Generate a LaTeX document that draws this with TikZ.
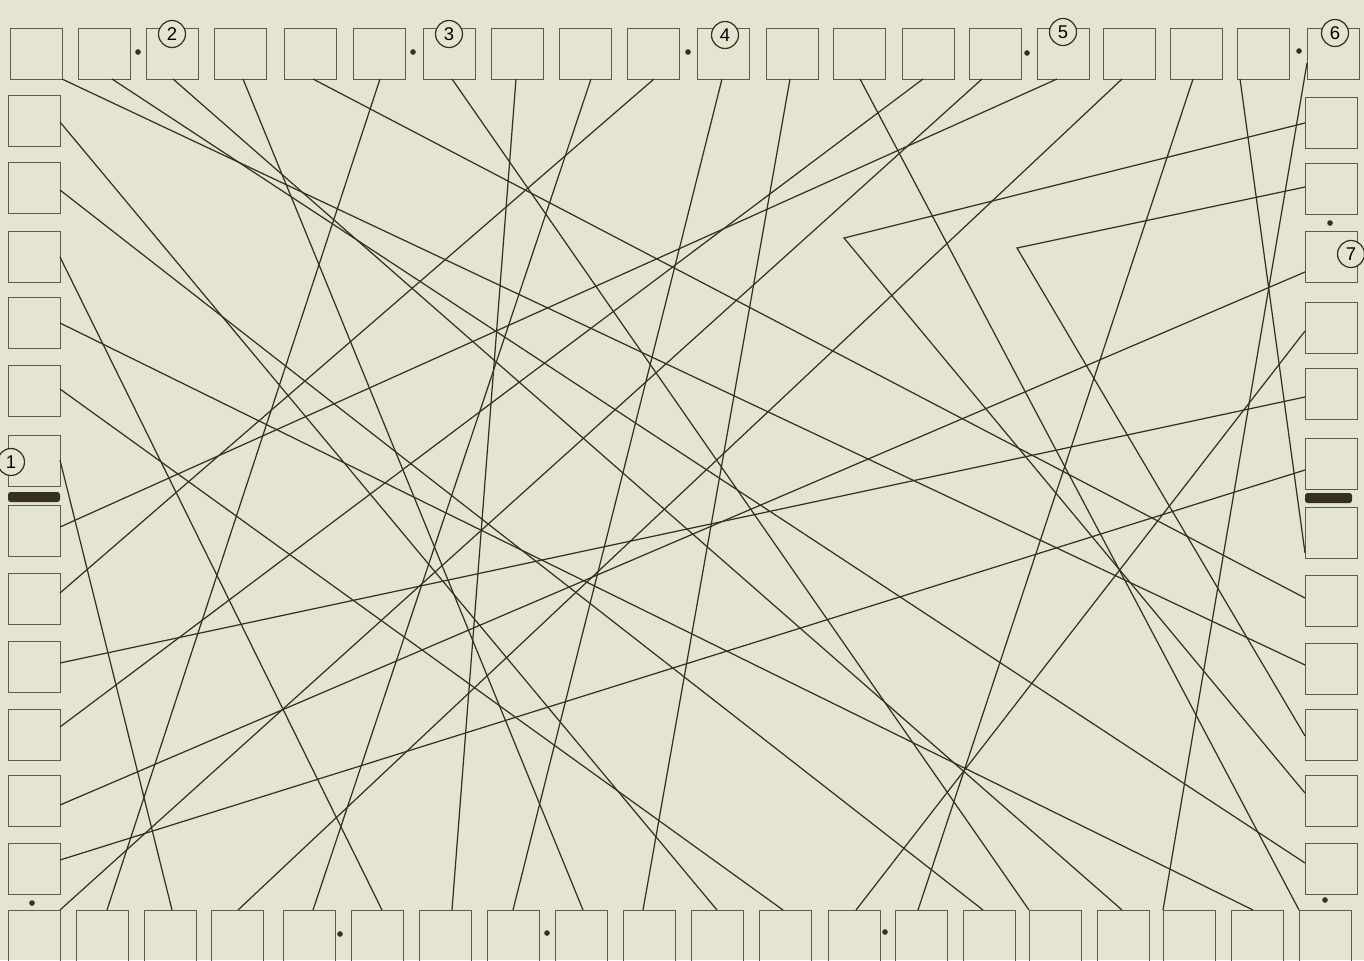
\documentclass[tikz,border=0pt]{standalone}
\usepackage{fontspec}
\setmainfont{Liberation Sans}
\usetikzlibrary{calc,positioning}
\definecolor{paper}{RGB}{229,228,208}
\definecolor{ink}{RGB}{55,47,34}

\begin{document}
\begin{tikzpicture}[x=0.02cm, y=-0.02cm,
  cell/.style={draw=ink!80, line width=0.55pt, anchor=north west, minimum width=1.04cm, minimum height=1.02cm, inner sep=0pt, outer sep=0pt},
  wire/.style={draw=ink, line width=0.7pt},
  badge/.style={draw=ink, fill=paper, circle, line width=0.7pt, minimum size=0.54cm, inner sep=0pt, font=\fontsize{10.5}{12}\selectfont}]

\fill[paper] (0,0) rectangle (1364,960);
\useasboundingbox (0,0) rectangle (1364,960);

% boxes round the border
\foreach \x [count=\i] in {10,78,146,214,284,353,423,491,559,627,697,766,833,902,969,1037,1103,1170,1237,1307}
  \node[cell] (t\i) at (\x,28) {};
\foreach \x [count=\i] in {8,76,144,211,283,351,419,487,555,623,691,759,828,895,963,1029,1097,1163,1231,1299}
  \node[cell] (b\i) at (\x,910) {};
\foreach \y [count=\i from 2] in {95,162,231,297,365,435,505,573,641,709,775,843}
  \node[cell] (l\i) at (8,\y) {};
\foreach \y [count=\i from 2] in {97,163,231,302,368,438,507,575,643,709,775,843}
  \node[cell] (r\i) at (1305,\y) {};

\fill[ink, rounded corners=1.5pt] (8,492) rectangle (60,502);
\fill[ink, rounded corners=1.5pt] (1305,493) rectangle (1352,503);

\foreach \p in {(138,52),(413,52),(688,52),(1027,53),(1299,51),(1330,223),(1325,900),(32,903),(340,934),(547,933),(885,932)}
  \fill[ink] \p circle (1.6pt);

% the two bent wires
\coordinate (k1) at (844,238);
\coordinate (k2) at (1017,248);

% wires from the top row
\draw[wire] (t1.south east) -- ($(r10.north west)+(0,22)$);
\draw[wire] ($(t2.south west)+(34,0)$) -- ($(r13.north west)+(0,20)$);
\draw[wire] ($(t3.south west)+(27,0)$) -- ($(b17.north west)+(25,0)$);
\draw[wire] ($(t4.south west)+(29,0)$) -- ($(b9.north west)+(28,0)$);
\draw[wire] ($(t5.south west)+(29,0)$) -- ($(r9.north west)+(0,23)$);
\draw[wire] ($(t6.south west)+(27,0)$) -- ($(b2.north west)+(31,0)$);
\draw[wire] ($(t7.south west)+(29,0)$) -- (b16.north west);
\draw[wire] ($(t8.south west)+(25,0)$) -- ($(b7.north west)+(33,0)$);
\draw[wire] ($(t9.south west)+(32,0)$) -- ($(b5.north west)+(30,0)$);
\draw[wire] ($(t10.south west)+(27,0)$) -- ($(l9.north east)+(0,20)$);
\draw[wire] ($(t11.south west)+(25,0)$) -- ($(b8.north west)+(26,0)$);
\draw[wire] ($(t12.south west)+(24,0)$) -- ($(b10.north west)+(20,0)$);
\draw[wire] ($(t13.south west)+(27,0)$) -- (b20.north west);
\draw[wire] ($(t14.south west)+(21,0)$) -- ($(l11.north east)+(0,18)$);
\draw[wire] ($(t15.south west)+(13,0)$) -- (b1.north east);
\draw[wire] ($(t16.south west)+(20,0)$) -- ($(l8.north east)+(0,22)$);
\draw[wire] ($(t17.south west)+(19,0)$) -- ($(b4.north west)+(27,0)$);
\draw[wire] ($(t18.south west)+(23,0)$) -- ($(b14.north west)+(23,0)$);
\draw[wire] ($(t19.south west)+(3,0)$) -- ($(r8.north west)+(0,46)$);
\draw[wire] ($(t20.north west)+(0,35)$) -- (b18.north west);
% wires from the left column
\draw[wire] ($(l2.north east)+(0,27)$) -- ($(b11.north west)+(26,0)$);
\draw[wire] ($(l3.north east)+(0,28)$) -- ($(b15.north west)+(20,0)$);
\draw[wire] ($(l4.north east)+(0,26)$) -- ($(b6.north west)+(31,0)$);
\draw[wire] ($(l5.north east)+(0,26)$) -- ($(b19.north west)+(22,0)$);
\draw[wire] ($(l6.north east)+(0,24)$) -- ($(b12.north west)+(24,0)$);
\draw[wire] ($(l7.north east)+(0,25)$) -- ($(b3.north west)+(28,0)$);
\draw[wire] ($(l10.north east)+(0,22)$) -- ($(r6.north west)+(0,29)$);
\draw[wire] ($(l12.north east)+(0,30)$) -- ($(r4.north west)+(0,41)$);
\draw[wire] ($(l13.north east)+(0,17)$) -- ($(r7.north west)+(0,32)$);
\draw[wire] ($(b13.north west)+(28,0)$) -- ($(r5.north west)+(0,29)$);
\draw[wire] ($(r2.north west)+(0,26)$) -- (k1) -- ($(r12.north west)+(0,18)$);
\draw[wire] ($(r3.north west)+(0,24)$) -- (k2) -- ($(r11.north west)+(0,27)$);

% numbered marks
\node[badge] (n1) at (11,462) {1};
\node[badge] (n2) at (172,34) {2};
\node[badge] (n3) at (449,34) {3};
\node[badge] (n4) at (725,35) {4};
\node[badge] (n5) at (1063,32) {5};
\node[badge] (n6) at (1335,33) {6};
\node[badge] (n7) at (1351,254) {7};
\end{tikzpicture}
\end{document}
